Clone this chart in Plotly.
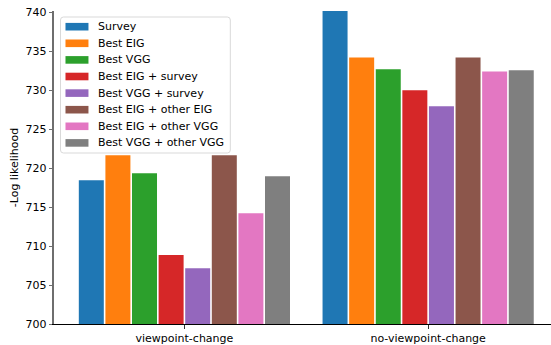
import plotly.graph_objects as go

# Groups on the x axis
categories = ["viewpoint-change", "no-viewpoint-change"]

# Series names and their -log likelihood per group
series_names = [
    "Survey",
    "Best EIG",
    "Best VGG",
    "Best EIG + survey",
    "Best VGG + survey",
    "Best EIG + other EIG",
    "Best EIG + other VGG",
    "Best VGG + other VGG",
]
survey = [718.45, 740.3]
best_eig = [721.65, 734.2]
best_vgg = [719.35, 732.7]
best_eig_survey = [708.85, 730.0]
best_vgg_survey = [707.15, 727.95]
best_eig_other_eig = [721.65, 734.2]
best_eig_other_vgg = [714.2, 732.4]
best_vgg_other_vgg = [718.95, 732.55]

series_values = [
    survey, best_eig, best_vgg, best_eig_survey,
    best_vgg_survey, best_eig_other_eig, best_eig_other_vgg, best_vgg_other_vgg,
]

y_ticks = [700, 705, 710, 715, 720, 725, 730, 735, 740]

colors = ["#1f77b4", "#ff7f0e", "#2ca02c", "#d62728",
          "#9467bd", "#8c564b", "#e377c2", "#7f7f7f"]

W, H = 551, 345
ML, MR, MT, MB = 53.5, 0, 11, 21
FONT = "DejaVu Sans"
FS = 11

fig = go.Figure()
for name, vals, col in zip(series_names, series_values, colors):
    fig.add_trace(go.Bar(
        x=list(range(len(categories))), y=vals, name=name,
        marker=dict(color=col, line=dict(width=0)),
        showlegend=False,
    ))

# Legend box drawn in pixel space, converted to paper coordinates
pw, ph = W - ML - MR, H - MT - MB


def px(x):
    return (x - ML) / pw


def py(y):
    return (H - MB - y) / ph


shapes = []
annotations = []
bx0, bx1, by0, by1, r = 60, 230, 17, 153, 3
path = (
    f"M {px(bx0 + r)} {py(by0)} L {px(bx1 - r)} {py(by0)} "
    f"Q {px(bx1)} {py(by0)} {px(bx1)} {py(by0 + r)} "
    f"L {px(bx1)} {py(by1 - r)} Q {px(bx1)} {py(by1)} {px(bx1 - r)} {py(by1)} "
    f"L {px(bx0 + r)} {py(by1)} Q {px(bx0)} {py(by1)} {px(bx0)} {py(by1 - r)} "
    f"L {px(bx0)} {py(by0 + r)} Q {px(bx0)} {py(by0)} {px(bx0 + r)} {py(by0)} Z"
)
shapes.append(dict(type="path", xref="paper", yref="paper", path=path,
                   fillcolor="rgba(255,255,255,0.8)",
                   line=dict(color="#d9d9d9", width=1), layer="above"))
row0, step = 26.7, 16.6
for i, (name, col) in enumerate(zip(series_names, colors)):
    cy = row0 + i * step
    shapes.append(dict(type="rect", xref="paper", yref="paper",
                       x0=px(65), x1=px(88), y0=py(cy - 3.8), y1=py(cy + 3.8),
                       fillcolor=col, line=dict(width=0), layer="above"))
    annotations.append(dict(xref="paper", yref="paper", x=px(96), y=py(cy),
                            xanchor="left", yanchor="middle", text=name,
                            showarrow=False,
                            font=dict(family=FONT, size=FS, color="#000000")))

fig.update_layout(
    width=W, height=H,
    margin=dict(l=ML, r=MR, t=MT, b=MB, pad=0),
    paper_bgcolor="white", plot_bgcolor="white",
    barmode="group", bargap=0.127, bargroupgap=0.06,
    font=dict(family=FONT, size=FS, color="#000000"),
    shapes=shapes, annotations=annotations,
    xaxis=dict(
        range=[-0.535, 1.504], tickmode="array",
        tickvals=list(range(len(categories))), ticktext=categories,
        showgrid=False, zeroline=False,
        showline=True, linecolor="#000000", linewidth=1.3,
        ticks="outside", ticklen=3.5, tickcolor="#333333", tickwidth=1,
        tickfont=dict(family=FONT, size=FS, color="#000000"),
    ),
    yaxis=dict(
        range=[700, 740.17], tickmode="array", tickvals=y_ticks,
        ticktext=[str(t) for t in y_ticks],
        showgrid=False, zeroline=False,
        showline=True, linecolor="#6e6e6e", linewidth=1.5,
        ticks="outside", ticklen=3.5, tickcolor="#6e6e6e", tickwidth=1,
        tickfont=dict(family=FONT, size=FS, color="#000000"),
        title=dict(text="-Log likelihood", standoff=5,
                   font=dict(family=FONT, size=FS, color="#000000")),
    ),
)

fig.write_html("out.html")
